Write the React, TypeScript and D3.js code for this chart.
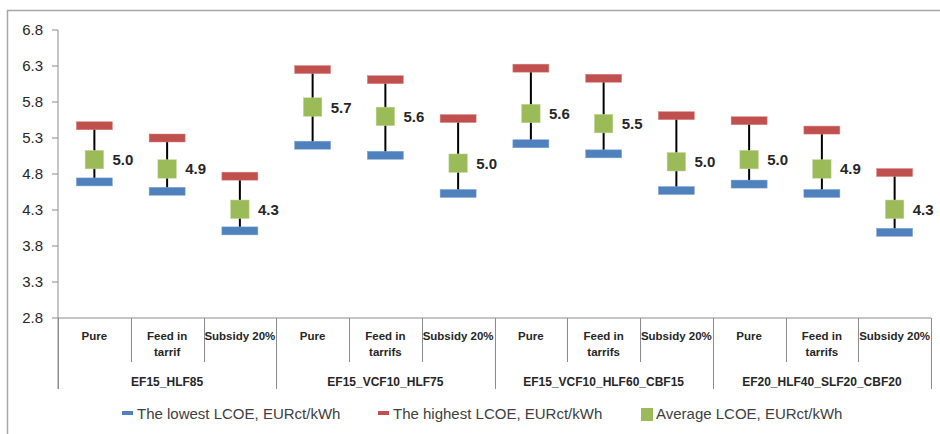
import React from "react";
import * as d3 from "d3";

const groups = ["EF15_HLF85", "EF15_VCF10_HLF75", "EF15_VCF10_HLF60_CBF15", "EF20_HLF40_SLF20_CBF20"];
const subCategories = [
  ["Pure", "Feed in|tarrif", "Subsidy 20%"],
  ["Pure", "Feed in|tarrifs", "Subsidy 20%"],
  ["Pure", "Feed in|tarrifs", "Subsidy 20%"],
  ["Pure", "Feed in|tarrifs", "Subsidy 20%"],
];
const lowest = [4.69, 4.56, 4.01, 5.2, 5.06, 4.53, 5.22, 5.08, 4.57, 4.66, 4.53, 3.99];
const highest = [5.47, 5.3, 4.77, 6.25, 6.11, 5.57, 6.27, 6.13, 5.61, 5.54, 5.41, 4.82];
const average = [5.0, 4.87, 4.31, 5.73, 5.6, 4.95, 5.64, 5.5, 4.97, 5.0, 4.87, 4.31];
const yTicks = [2.8, 3.3, 3.8, 4.3, 4.8, 5.3, 5.8, 6.3, 6.8];
const legendLabels = ["The lowest LCOE, EURct/kWh", "The highest LCOE, EURct/kWh", "Average LCOE, EURct/kWh"];

const W = 940, H = 434;
const X0 = 58, X1 = 931, Y0 = 30, Y1 = 318;
const FONT = "'Liberation Sans', Arial, sans-serif";
const BLUE = "#4F81BD", RED = "#C0504D", GREEN = "#9BBB59";
const AXIS = "#8c8c8c";
const TXT = "#262626";

export default function App() {
  const n = lowest.length;
  const idx = d3.range(n);
  const x = d3.scaleBand<number>().domain(idx).range([X0, X1]).padding(0);
  const y = d3.scaleLinear().domain([2.8, 6.8]).range([Y1, Y0]);
  const bw = x.bandwidth();
  const flatCats = subCategories.flat();
  const gx = (g: number) => X0 + g * 3 * bw;

  return (
    <svg width={W} height={H} style={{ position: "absolute", left: 0, top: 0, background: "#fff" }}>
      {/* outer frame */}
      <line x1={7} x2={W} y1={10.5} y2={10.5} stroke="#a6a6a6" strokeWidth={1.5} />
      <line x1={7.5} x2={7.5} y1={10} y2={H} stroke="#a6a6a6" strokeWidth={1.5} />

      {/* y axis */}
      <line x1={X0} x2={X0} y1={Y0} y2={389} stroke={AXIS} strokeWidth={1} />
      {yTicks.map((t) => (
        <g key={t}>
          <line x1={X0 - 6} x2={X0} y1={y(t)} y2={y(t)} stroke={AXIS} />
          <text x={43} y={y(t) + 5} textAnchor="end" fontFamily={FONT} fontSize={15} fill={TXT}>
            {t.toFixed(1)}
          </text>
        </g>
      ))}

      {/* x axis */}
      <line x1={X0} x2={X1} y1={Y1} y2={Y1} stroke={AXIS} />
      {d3.range(n + 1).map((i) => {
        const xx = Math.round(X0 + i * bw) + 0.5;
        const isGroup = i % 3 === 0;
        return <line key={i} x1={xx} x2={xx} y1={Y1} y2={isGroup ? 389 : 362} stroke={AXIS} />;
      })}
      {flatCats.map((c, i) => {
        const lines = c.split("|");
        const cx = (x(i) as number) + bw / 2;
        return (
          <text key={i} x={cx} textAnchor="middle" fontFamily={FONT} fontSize={11.5} fontWeight="bold" fill={TXT}>
            {lines.map((l, j) => (
              <tspan key={j} x={cx} y={340 + j * 16}>{l}</tspan>
            ))}
          </text>
        );
      })}
      {groups.map((g, gi) => (
        <text key={g} x={gx(gi) + 1.5 * bw} y={386} textAnchor="middle" fontFamily={FONT} fontSize={12} fontWeight="bold" fill={TXT}>
          {g}
        </text>
      ))}

      {/* data */}
      {idx.map((i) => {
        const cx = (x(i) as number) + bw / 2;
        return (
          <g key={i}>
            <line x1={cx} x2={cx} y1={y(lowest[i])} y2={y(highest[i])} stroke="#000" strokeWidth={2} />
            <rect x={cx - 18} y={y(lowest[i]) - 4} width={36} height={8} fill={BLUE} stroke="#7fa6d6" strokeWidth={0.5} />
            <rect x={cx - 18} y={y(highest[i]) - 4} width={36} height={8} fill={RED} stroke="#d98582" strokeWidth={0.5} />
            <rect x={cx - 9.25} y={y(average[i]) - 9.25} width={18.5} height={18.5} fill={GREEN} stroke="#c3d69b" strokeWidth={0.5} />
            <text x={cx + 18} y={y(average[i]) + 5.5} fontFamily={FONT} fontSize={15} fontWeight="bold" fill={TXT}>
              {average[i].toFixed(1)}
            </text>
          </g>
        );
      })}

      {/* legend */}
      <rect x={122} y={411} width={11} height={4} fill={BLUE} />
      <text x={137} y={418.5} fontFamily={FONT} fontSize={15} fill="#404040">{legendLabels[0]}</text>
      <rect x={378} y={411} width={11} height={4} fill={RED} />
      <text x={393} y={418.5} fontFamily={FONT} fontSize={15} fill="#404040">{legendLabels[1]}</text>
      <rect x={641} y={408} width={12} height={13} fill={GREEN} />
      <text x={656} y={418.5} fontFamily={FONT} fontSize={15} fill="#404040">{legendLabels[2]}</text>
    </svg>
  );
}
